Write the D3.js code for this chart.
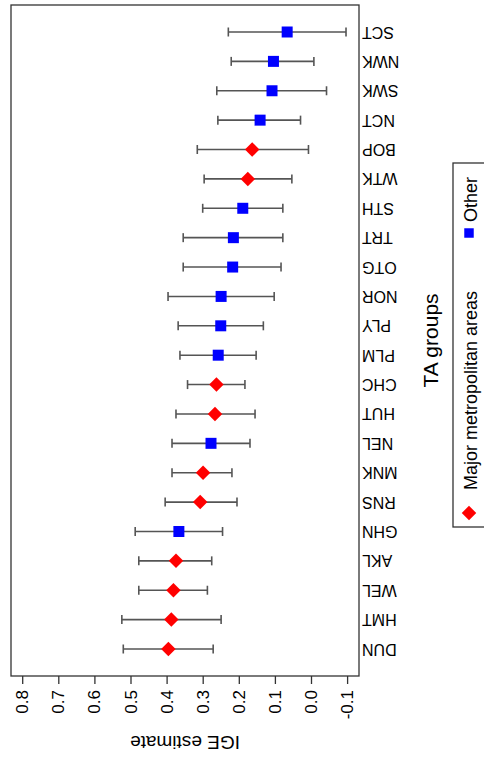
<!DOCTYPE html>
<html><head><meta charset="utf-8">
<script src="https://cdn.jsdelivr.net/npm/d3@7/dist/d3.min.js"></script>
<style>html,body{margin:0;padding:0;background:#fff;}svg{display:block;font-family:"Liberation Sans",Arial,sans-serif;}</style>
</head><body>
<script>
const categories = ["DUN","HMT","WEL","AKL","GHN","RNS","MNK","NEL","HUT","CHC","PLM","PLY","NOR","OTG","TRT","STH","WTK","BOP","NCT","SWK","NWK","SCT"];
const groups = ["Major","Major","Major","Major","Other","Major","Major","Other","Major","Major","Other","Other","Other","Other","Other","Other","Major","Major","Other","Other","Other","Other"];
const estimates = [0.395,0.387,0.381,0.374,0.366,0.307,0.299,0.277,0.266,0.262,0.257,0.250,0.249,0.217,0.215,0.189,0.175,0.163,0.141,0.108,0.104,0.066];
const lower = [0.271,0.249,0.287,0.275,0.245,0.205,0.219,0.169,0.155,0.183,0.152,0.132,0.102,0.083,0.078,0.078,0.053,0.007,0.029,-0.043,-0.008,-0.097];
const upper = [0.520,0.524,0.477,0.477,0.487,0.404,0.385,0.385,0.374,0.342,0.363,0.368,0.396,0.354,0.354,0.300,0.296,0.315,0.258,0.261,0.221,0.229];
const tickValues = [0.8,0.7,0.6,0.5,0.4,0.3,0.2,0.1,0.0,-0.1];
const legendLabels = ["Major metropolitan areas","Other"];
const colors = {Major:"#ff0000", Other:"#0000ff"};

const W=484,H=764;
const svg=d3.select("body").append("svg").attr("width",W).attr("height",H);
const box={l:11,r:359,t:5,b:676};
const x=d3.scaleLinear().domain([-0.1,0.8]).range([347.1,22.2]);
const y=d3.scalePoint().domain(categories).range([649,32]);

// plot box
svg.append("rect").attr("x",box.l).attr("y",box.t).attr("width",box.r-box.l).attr("height",box.b-box.t)
  .attr("fill","none").attr("stroke","#333").attr("stroke-width",1.3);

// axis (bottom, values)
const fmt=d3.format(".1f");
const axis=d3.axisBottom(x).tickValues(tickValues).tickSize(8).tickFormat(d=>fmt(d).replace("\u2212","-"));
const ag=svg.append("g").attr("transform",`translate(0,${box.b})`).call(axis);
ag.select(".domain").remove();
ag.selectAll(".tick line").attr("stroke","#333").attr("stroke-width",1.3);
ag.selectAll(".tick text").attr("fill","#000").attr("font-size",17).attr("font-family","Liberation Sans, Arial, sans-serif")
  .attr("y",0).attr("dy",null).attr("text-anchor","end").attr("dominant-baseline","central")
  .attr("transform","translate(0,14) rotate(-90)");

// category labels (upside down)
const data=categories.map((c,i)=>({c,g:groups[i],e:estimates[i],lo:lower[i],hi:upper[i]}));
svg.append("g").selectAll("text").data(data).join("text")
  .attr("transform",d=>`translate(362,${y(d.c)}) rotate(180)`)
  .attr("text-anchor","end").attr("dominant-baseline","central")
  .attr("font-size",16).attr("fill","#000").text(d=>d.c);

// error bars
const eb=svg.append("g").attr("stroke","#555").attr("stroke-width",1.6).attr("fill","none");
eb.selectAll("line.bar").data(data).join("line").attr("class","bar")
  .attr("x1",d=>x(d.hi)).attr("x2",d=>x(d.lo)).attr("y1",d=>y(d.c)).attr("y2",d=>y(d.c));
eb.selectAll("line.capl").data(data).join("line").attr("class","capl")
  .attr("x1",d=>x(d.hi)).attr("x2",d=>x(d.hi)).attr("y1",d=>y(d.c)-4.5).attr("y2",d=>y(d.c)+4.5);
eb.selectAll("line.caph").data(data).join("line").attr("class","caph")
  .attr("x1",d=>x(d.lo)).attr("x2",d=>x(d.lo)).attr("y1",d=>y(d.c)-4.5).attr("y2",d=>y(d.c)+4.5);

// markers
const sq=d3.symbol().type(d3.symbolSquare).size(121);
const dm=d3.symbol().type(d3.symbolSquare).size(105);
svg.append("g").selectAll("path").data(data).join("path")
  .attr("d",d=>d.g==="Major"?dm():sq())
  .attr("transform",d=>`translate(${x(d.e)},${y(d.c)})`+(d.g==="Major"?" rotate(45)":""))
  .attr("fill",d=>colors[d.g]);

// axis titles
svg.append("text").attr("transform",`translate(${(box.l+box.r)/2},742) rotate(180)`)
  .attr("text-anchor","middle").attr("dominant-baseline","central").attr("font-size",19).text("IGE estimate");
svg.append("text").attr("transform",`translate(430,${(box.t+box.b)/2}) rotate(-90)`)
  .attr("text-anchor","middle").attr("dominant-baseline","central").attr("font-size",21).text("TA groups");

// legend
svg.append("rect").attr("x",453).attr("y",163).attr("width",60).attr("height",364)
  .attr("fill","none").attr("stroke","#333").attr("stroke-width",1.3);
const lg=svg.append("g");
lg.append("path").attr("d",dm()).attr("transform","translate(469,513) rotate(45)").attr("fill",colors.Major);
lg.append("text").attr("transform","translate(471,490) rotate(-90)").attr("dominant-baseline","central")
  .attr("font-size",18).text(legendLabels[0]);
lg.append("path").attr("d",d3.symbol().type(d3.symbolSquare).size(90)()).attr("transform","translate(469,233)").attr("fill",colors.Other);
lg.append("text").attr("transform","translate(471,222) rotate(-90)").attr("dominant-baseline","central")
  .attr("font-size",18).text(legendLabels[1]);
</script>
</body></html>
